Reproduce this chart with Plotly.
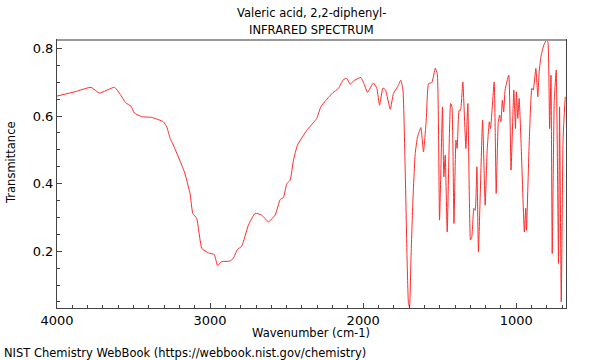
import plotly.graph_objects as go

wavenumber = [4000, 3882, 3778, 3723, 3625, 3588, 3551, 3516, 3495, 3446, 3381, 3305, 3283, 3261, 3240,
              3168, 3131, 3113, 3087, 3054, 3011, 2972, 2952, 2924, 2869, 2848, 2822, 2793, 2750, 2706,
              2662, 2619, 2575, 2542, 2521, 2499, 2477, 2455, 2429, 2368, 2303, 2277, 2227, 2198, 2161,
              2129, 2107, 2085, 2063, 2015, 1993, 1972, 1933, 1911, 1893, 1871, 1854, 1823, 1802, 1776,
              1754, 1740, 1725, 1714, 1704, 1697, 1688, 1675, 1660, 1645, 1623, 1606, 1588, 1573, 1551,
              1529, 1516, 1501, 1482, 1473, 1464, 1451, 1429, 1420, 1407, 1394, 1386, 1373, 1364, 1349,
              1329, 1316, 1299, 1290, 1277, 1268, 1257, 1247, 1220, 1203, 1190, 1176, 1168, 1144, 1131,
              1118, 1109, 1100, 1091, 1082, 1073, 1049, 1034, 1016, 1005, 999, 990, 981, 968, 947,
              938, 933, 916, 898, 889, 872, 859, 850, 838, 820, 802, 793, 782, 773, 765,
              752, 739, 724, 717, 706, 694, 680]
transmittance = [0.659, 0.672, 0.685, 0.668, 0.685, 0.665, 0.639, 0.629, 0.609, 0.598, 0.596, 0.583, 0.568, 0.534, 0.514,
                 0.435, 0.371, 0.312, 0.297, 0.208, 0.195, 0.190, 0.158, 0.169, 0.171, 0.179, 0.205, 0.215, 0.277, 0.312,
                 0.307, 0.287, 0.307, 0.353, 0.359, 0.400, 0.410, 0.470, 0.514, 0.558, 0.593, 0.627, 0.655, 0.669, 0.682,
                 0.708, 0.711, 0.694, 0.704, 0.714, 0.694, 0.670, 0.698, 0.682, 0.632, 0.683, 0.677, 0.620, 0.667, 0.686,
                 0.706, 0.677, 0.430, 0.193, 0.045, 0.035, 0.174, 0.351, 0.489, 0.538, 0.566, 0.494, 0.588, 0.696, 0.699,
                 0.741, 0.726, 0.292, 0.627, 0.420, 0.484, 0.257, 0.637, 0.627, 0.282, 0.529, 0.504, 0.617, 0.617, 0.701,
                 0.504, 0.637, 0.233, 0.243, 0.327, 0.321, 0.450, 0.198, 0.588, 0.336, 0.499, 0.583, 0.563, 0.701, 0.371,
                 0.578, 0.603, 0.583, 0.647, 0.612, 0.677, 0.721, 0.440, 0.677, 0.563, 0.672, 0.593, 0.652, 0.514, 0.257,
                 0.327, 0.262, 0.514, 0.682, 0.677, 0.741, 0.657, 0.733, 0.778, 0.810, 0.825, 0.818, 0.563, 0.721, 0.193,
                 0.642, 0.736, 0.164, 0.627, 0.050, 0.534, 0.657]

x_ticks = [4000, 3000, 2000, 1000]
y_ticks = [0.2, 0.4, 0.6, 0.8]
y_tick_labels = ["0.2", "0.4", "0.6", "0.8"]

W, H = 600, 360
ML, MR, MT, MB = 57, 34, 40, 52
plot_w = W - ML - MR
plot_h = H - MT - MB

def px(xpix):
    return (xpix - ML) / plot_w

def py(ypix):
    return (H - MB - ypix) / plot_h

fig = go.Figure()
fig.add_trace(go.Scatter(x=wavenumber, y=transmittance, mode="lines",
                         line=dict(color="#ff2a2a", width=1, shape="spline", smoothing=0.4),
                         hoverinfo="skip", showlegend=False, cliponaxis=True))

font = dict(family="DejaVu Sans", size=11.5, color="#000")
axis_common = dict(showline=True, linecolor="#444", linewidth=1, mirror=True, automargin=False,
                   ticks="inside", ticklen=5, tickcolor="#444", showgrid=False, zeroline=False,
                   tickfont=dict(family="DejaVu Sans", size=13, color="#000"))

fig.update_layout(
    width=W, height=H,
    margin=dict(l=ML, r=MR, t=MT, b=MB, autoexpand=False),
    paper_bgcolor="white", plot_bgcolor="white",
    font=font,
    xaxis=dict(range=[4000, 675], tickvals=x_ticks, ticktext=[str(v) for v in x_ticks],
               minor=dict(dtick=100, tick0=0, ticks="inside", ticklen=3, tickcolor="#444"),
               **axis_common),
    yaxis=dict(range=[0.032, 0.825], tickvals=y_ticks, ticktext=y_tick_labels,
               minor=dict(dtick=0.05, tick0=0, ticks="inside", ticklen=3, tickcolor="#444"),
               **axis_common),
    annotations=[
        dict(text="Valeric acid, 2,2-diphenyl-", x=px(311), y=py(13), xref="paper", yref="paper",
             showarrow=False, font=font, yanchor="middle"),
        dict(text="INFRARED SPECTRUM", x=px(311), y=py(30), xref="paper", yref="paper",
             showarrow=False, font=font, yanchor="middle"),
        dict(text="Wavenumber (cm-1)", x=px(311), y=py(333), xref="paper", yref="paper",
             showarrow=False, font=font, yanchor="middle"),
        dict(text="Transmittance", x=px(11), y=py(163), xref="paper", yref="paper",
             showarrow=False, font=font, textangle=-90, xanchor="center", yanchor="middle"),
        dict(text="NIST Chemistry WebBook (https://webbook.nist.gov/chemistry)", x=px(2), y=py(353),
             xref="paper", yref="paper", showarrow=False, font=font, xanchor="left", yanchor="middle"),
    ],
    shapes=[dict(type="line", xref="paper", yref="paper", x0=0, x1=1, y0=1, y1=1,
                 line=dict(color="#999", width=2))],
)

fig.write_html("out.html", config={"displayModeBar": False, "staticPlot": True},
               post_script="document.body.style.margin='0';document.body.style.overflow='hidden';")
